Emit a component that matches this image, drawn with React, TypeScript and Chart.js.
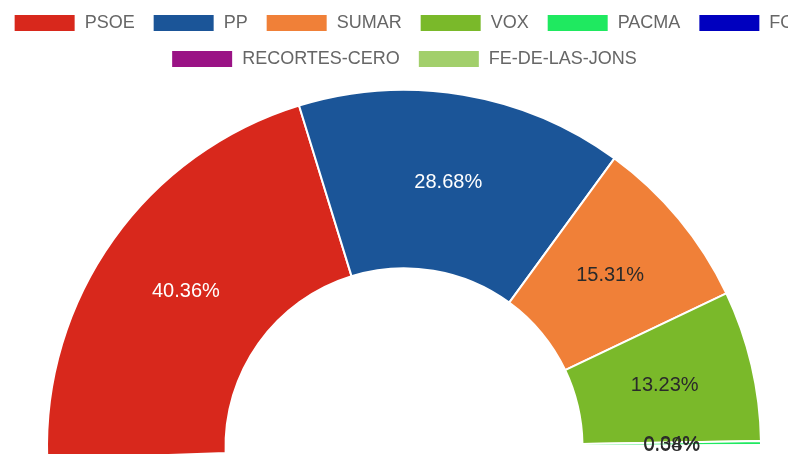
import React, { useEffect, useRef } from 'react';
import { Chart, registerables } from 'chart.js';

Chart.register(...registerables);

const parties = ['PSOE', 'PP', 'SUMAR', 'VOX', 'PACMA', 'FO', 'RECORTES-CERO', 'FE-DE-LAS-JONS'];
const voteShares = [40.36, 28.68, 15.31, 13.23, 0.34, 0.08, 0.05, 0.02];
const partyColors = ['#d8281c', '#1b5598', '#f08038', '#7ab92a', '#1fe960', '#0000bf', '#9a1385', '#a2cf6b'];
const labelColors = ['#ffffff', '#ffffff', '#2a2a2a', '#2a2a2a', '#2a2a2a', '#2a2a2a', '#2a2a2a', '#2a2a2a'];
const minLabelShare = 0.08;

const FONT = '"Liberation Sans", Arial, Helvetica, sans-serif';

const sliceLabels = {
  id: 'sliceLabels',
  afterDatasetsDraw(chart: any) {
    const { ctx } = chart;
    const meta = chart.getDatasetMeta(0);
    ctx.save();
    ctx.font = `20px ${FONT}`;
    ctx.textAlign = 'center';
    ctx.textBaseline = 'middle';
    meta.data.forEach((arc: any, i: number) => {
      const v = voteShares[i];
      if (v < minLabelShare) return;
      const p = arc.getCenterPoint();
      ctx.fillStyle = labelColors[i];
      ctx.fillText(v.toFixed(2) + '%', p.x, p.y);
    });
    ctx.restore();
  },
};

export default function App() {
  const ref = useRef<HTMLCanvasElement | null>(null);

  useEffect(() => {
    document.documentElement.style.overflow = 'hidden';
    document.body.style.overflow = 'hidden';
    if (!ref.current) return;
    const chart = new Chart(ref.current, {
      type: 'doughnut',
      data: {
        labels: parties,
        datasets: [
          {
            data: voteShares,
            backgroundColor: partyColors,
            borderColor: '#ffffff',
            borderWidth: 2,
          },
        ],
      },
      options: {
        animation: false,
        responsive: true,
        maintainAspectRatio: false,
        rotation: -92,
        circumference: 182,
        cutout: '50%',
        radius: 357,
        plugins: {
          legend: {
            position: 'top',
            labels: {
              boxWidth: 62,
              boxHeight: 18,
              padding: 18,
              color: '#666666',
              font: { family: FONT, size: 18 },
            },
          },
          tooltip: { enabled: false },
        },
      },
      plugins: [sliceLabels],
    });
    return () => chart.destroy();
  }, []);

  return (
    <div style={{ position: 'relative', left: -19, top: -12, width: 830, height: 475 }}>
      <canvas ref={ref} />
    </div>
  );
}
